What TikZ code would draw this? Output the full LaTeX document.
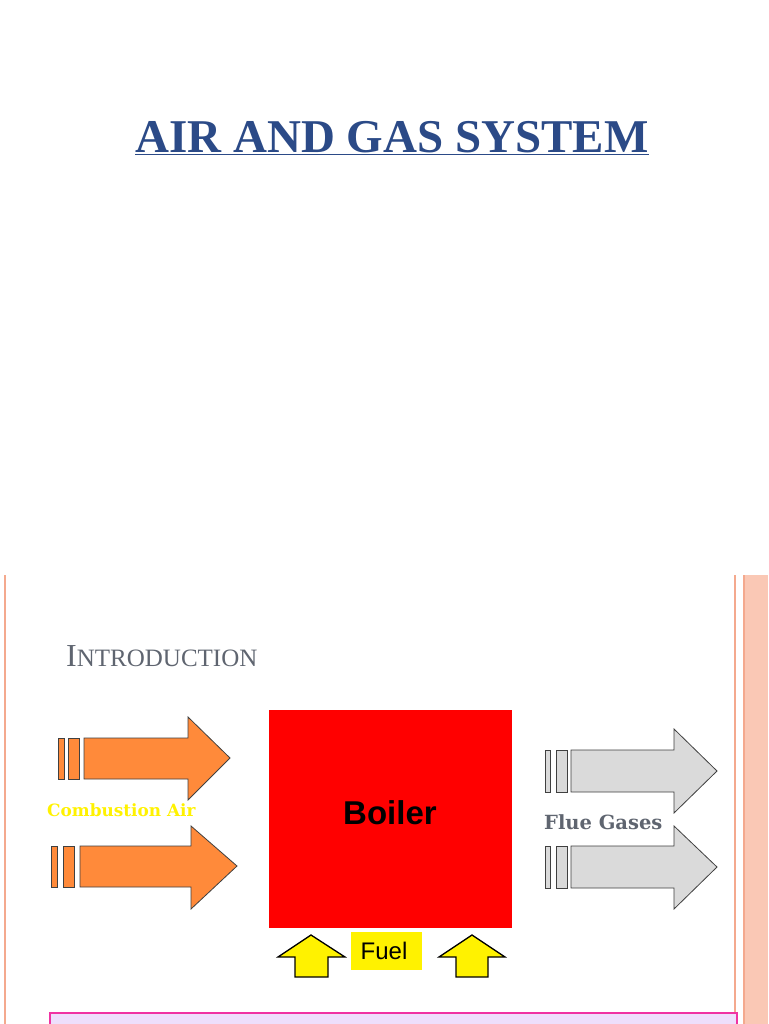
\documentclass[tikz,border=0pt]{standalone}
\usepackage{fontspec}
\setmainfont{Liberation Serif}
\newfontfamily\arial{Liberation Sans}
\newfontfamily\slab{DejaVu Serif}
\definecolor{navy}{HTML}{2B4A87}
\definecolor{salmon}{HTML}{F4A98E}
\definecolor{salmonlt}{HTML}{FAC8B5}
\definecolor{orangeA}{HTML}{FF8A3A}
\definecolor{grayA}{HTML}{DADADA}
\definecolor{lav}{HTML}{EEDFFC}
\definecolor{introgray}{HTML}{5F6570}
\begin{document}
\begin{tikzpicture}[x=1pt,y=-1pt,
  arr/.style={draw=black!75,line width=0.8pt,line join=miter},
  lbl/.style={inner sep=0pt,anchor=center}]
\useasboundingbox (0,0) rectangle (768,1024);
\fill[white] (0,0) rectangle (768,1024);
% slide borders
\draw[salmon,line width=2pt] (5,575) -- (5,1024);
\draw[salmon,line width=2pt] (735,575) -- (735,1024);
\fill[salmonlt] (743,575) rectangle (768,1024);
\draw[salmon,line width=1.5pt] (744,575) -- (744,1024);
% title
\node[lbl,text=navy,font=\fontsize{47}{50}\selectfont\bfseries] (title) at (392,138) {\underline{AIR AND GAS SYSTEM}};
\node[lbl,anchor=base west,text=introgray] (intro) at (66,666) {\fontsize{32}{34}\selectfont I\fontsize{25}{28}\selectfont NTRODUCTION};
% orange arrow 1
\draw[arr,fill=orangeA] (58,738) rectangle (64,779);
\draw[arr,fill=orangeA] (68,738) rectangle (79,779);
\draw[arr,fill=orangeA] (84,738) -- (188,738) -- (188,717) -- (230,758) -- (188,800) -- (188,779) -- (84,779) -- cycle;
% orange arrow 2
\draw[arr,fill=orangeA] (51,846) rectangle (57,887);
\draw[arr,fill=orangeA] (63,846) rectangle (74,887);
\draw[arr,fill=orangeA] (80,846) -- (191,846) -- (191,826) -- (237,866) -- (191,909) -- (191,887) -- (80,887) -- cycle;
\node[lbl,anchor=west,text=yellow,font=\slab\fontsize{16.9}{19}\selectfont\bfseries] (cair) at (47,810) {Combustion Air};
% boiler
\node[fill=red,minimum width=243pt,minimum height=218pt,inner sep=0pt] (boiler) at (390.5,819) {};
\node[lbl,font=\arial\fontsize{33}{36}\selectfont\bfseries] (blab) at (390,813) {Boiler};
% gray arrows
\draw[arr,fill=grayA] (545,750) rectangle (550,792);
\draw[arr,fill=grayA] (556,750) rectangle (567,792);
\draw[arr,fill=grayA] (571,750) -- (674,750) -- (674,729) -- (717,771) -- (674,813) -- (674,792) -- (571,792) -- cycle;
\draw[arr,fill=grayA] (545,846) rectangle (550,888);
\draw[arr,fill=grayA] (556,846) rectangle (567,888);
\draw[arr,fill=grayA] (571,846) -- (674,846) -- (674,826) -- (717,867) -- (674,909) -- (674,888) -- (571,888) -- cycle;
\node[lbl,anchor=west,text=introgray,font=\slab\fontsize{19.5}{21}\selectfont\bfseries] (flue) at (544,822) {Flue Gases};
% fuel arrows
\draw[black,line width=1.3pt,fill=yellow,line join=miter] (295,977) -- (295,957) -- (278,957) -- (311,935) -- (345,957) -- (328,957) -- (328,977) -- cycle;
\draw[black,line width=1.3pt,fill=yellow,line join=miter] (456,977) -- (456,957) -- (439,957) -- (472,935) -- (505,957) -- (488,957) -- (488,977) -- cycle;
\node[fill=yellow,minimum width=71pt,minimum height=38pt,inner sep=0pt] (fuelbox) at (386.5,951) {};
\node[lbl,font=\arial\fontsize{24}{26}\selectfont] (fuel) at (384,951) {Fuel};
% bottom box
\draw[magenta!80,fill=lav,line width=1.2pt] (50,1013) rectangle (737,1030);
\end{tikzpicture}
\end{document}
